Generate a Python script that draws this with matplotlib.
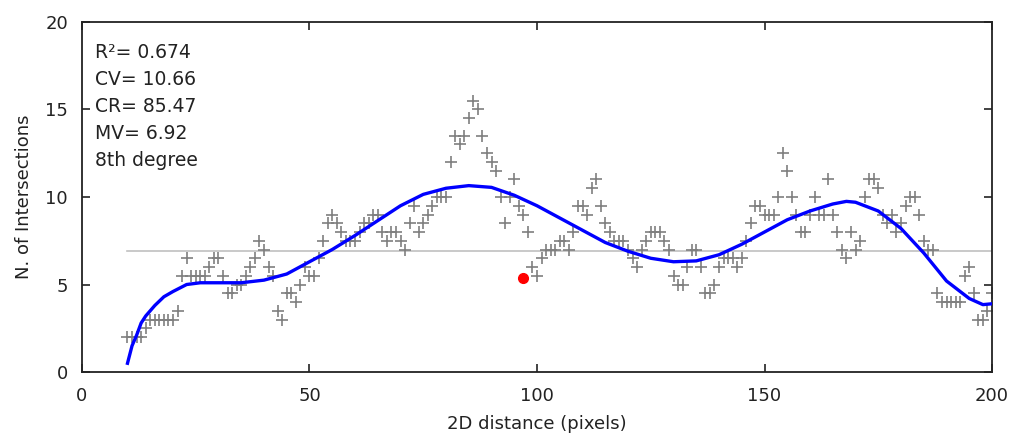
import numpy as np
import matplotlib
matplotlib.use("Agg")
import matplotlib.pyplot as plt

plt.rcParams['font.family'] = ['DejaVu Sans']

# sholl profile, one sample per radius step
radius = list(range(10, 201))
intersections = [
    2, 2, 2, 2, 2.5, 3, 3, 3, 3, 3,                         # 10-19
    3, 3.5, 5.5, 6.5, 5.5, 5.5, 5.5, 5.5, 6, 6.5,           # 20-29
    6.5, 5.5, 4.5, 4.5, 5, 5, 5.5, 6, 6.5, 7.5,             # 30-39
    7, 6, 5.5, 3.5, 3, 4.5, 4.5, 4, 5, 6,                   # 40-49
    5.5, 5.5, 6.5, 7.5, 8.5, 9, 8.5, 8, 7.5, 7.5,           # 50-59
    7.5, 8, 8.5, 8.5, 9, 9, 8, 7.5, 8, 8,                   # 60-69
    7.5, 7, 8.5, 9.5, 8, 8.5, 9, 9.5, 10, 10,               # 70-79
    10, 12, 13.5, 13, 13.5, 14.5, 15.5, 15, 13.5, 12.5,     # 80-89
    12, 11.5, 10, 8.5, 10, 11, 9.5, 9, 8, 6,                # 90-99
    5.5, 6.5, 7, 7, 7, 7.5, 7.5, 7, 8, 9.5,                 # 100-109
    9.5, 9, 10.5, 11, 9.5, 8.5, 8, 7.5, 7.5, 7.5,           # 110-119
    7, 6.5, 6, 7, 7.5, 8, 8, 8, 7.5, 7,                     # 120-129
    5.5, 5, 5, 6, 7, 7, 6, 4.5, 4.5, 5,                     # 130-139
    6, 6.5, 6.5, 6.5, 6, 6.5, 7.5, 8.5, 9.5, 9.5,           # 140-149
    9, 9, 9, 10, 12.5, 11.5, 10, 9, 8, 8,                   # 150-159
    9, 10, 9, 9, 11, 9, 8, 7, 6.5, 8,                       # 160-169
    7, 7.5, 10, 11, 11, 10.5, 9, 8.5, 9, 8,                 # 170-179
    8.5, 9.5, 10, 10, 9, 7.5, 7, 7, 4.5, 4,                 # 180-189
    4, 4, 4, 4, 5.5, 6, 4.5, 3, 3, 3.5,                     # 190-199
    4.5,                                                    # 200
]

# 8th degree fit
fit_x = [10, 11, 12, 13, 14, 16, 18, 20, 23, 26, 30, 35, 40, 45, 50, 55, 60,
         65, 70, 75, 80, 85, 90, 95, 100, 105, 110, 115, 120, 125, 130, 135,
         140, 145, 150, 155, 160, 165, 168, 170, 175, 180, 185, 190, 195, 198, 200]
fit_y = [0.5, 1.5, 2.1, 2.8, 3.2, 3.8, 4.3, 4.6, 5.0, 5.1, 5.1, 5.1, 5.25, 5.6,
         6.3, 7.0, 7.8, 8.65, 9.5, 10.15, 10.5, 10.65, 10.55, 10.1, 9.5, 8.8, 8.1,
         7.4, 6.9, 6.5, 6.3, 6.35, 6.7, 7.3, 8.0, 8.7, 9.2, 9.6, 9.75, 9.7, 9.2,
         8.2, 6.8, 5.2, 4.2, 3.85, 3.9]

mean_value = 6.92
critical = (97, 5.4)
stats = ["R\u00b2= 0.674", "CV= 10.66", "CR= 85.47", "MV= 6.92", "8th degree"]

fig = plt.figure(figsize=(10.16, 4.37), dpi=100)
ax = fig.add_axes([0.0807, 0.1487, 0.8957, 0.801])

ax.plot([radius[0], radius[-1]], [mean_value, mean_value], color="#c0c0c0", lw=1.2, zorder=1)
ax.plot(radius, intersections, "+", color="#7f7f7f", ms=8, mew=1.2, zorder=2)
ax.plot(fit_x, fit_y, color="#0000ff", lw=2.4, zorder=3)
ax.plot(*critical, "o", color="#ff0000", ms=7, zorder=4)

for i, s in enumerate(stats):
    ax.text(0.014, 0.914 - i * 0.0775, s, transform=ax.transAxes, fontsize=13.5,
            va="center", ha="left", color="#222222")

ax.set_xlim(0, 200)
ax.set_ylim(0, 20)
ax.set_xticks([0, 50, 100, 150, 200])
ax.set_yticks([0, 5, 10, 15, 20])
ax.tick_params(direction="in", top=True, right=True, length=6, width=1.2,
               labelsize=13, colors="#222222")
ax.tick_params(axis="x", pad=11)
ax.tick_params(axis="y", pad=10)
for sp in ax.spines.values():
    sp.set_linewidth(1.3)
    sp.set_color("#222222")
ax.set_xlabel("2D distance (pixels)", fontsize=13, color="#222222", labelpad=7)
ax.set_ylabel("N. of Intersections", fontsize=13, color="#222222", labelpad=9)

fig.savefig("out.png", dpi=100)
